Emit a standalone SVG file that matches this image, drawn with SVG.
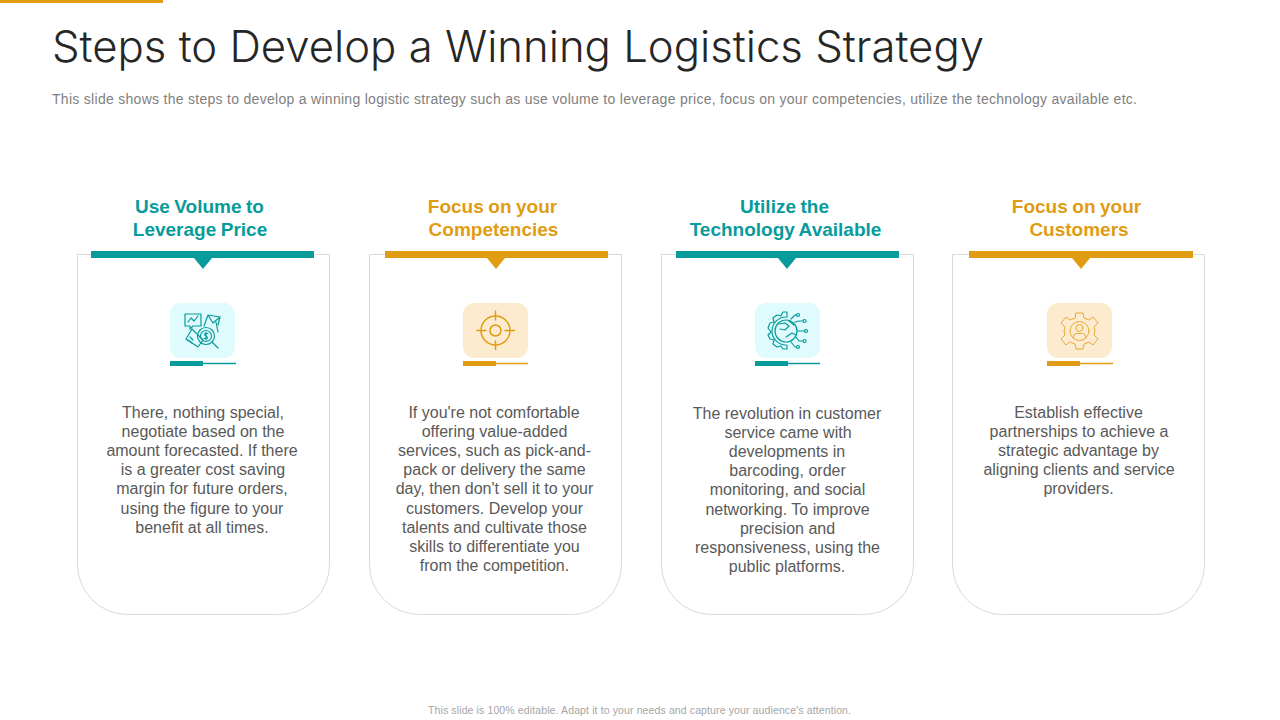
<svg xmlns="http://www.w3.org/2000/svg" width="1280" height="720" viewBox="0 0 1280 720">
<style>
text{font-family:"Liberation Sans",Arial,sans-serif}
.title{font-family:"Inter","Lato",sans-serif;font-weight:300;font-size:43px;fill:#262626;font-variant-ligatures:none}
.sub{font-size:14px;fill:#808080}
.foot{font-size:10.500px;fill:#a6a6a6}
.h{font-size:19px;font-weight:bold;text-anchor:middle;word-spacing:-0.800px}
.b{font-size:16px;fill:#595959;text-anchor:middle}
.card{fill:#fff;stroke:#d9d9d9;stroke-width:1}
.teal{fill:#089b9b}.gold{fill:#e09c12}
.st{stroke:#089b9b}.sg{stroke:#e09c12}
.tl{fill:#dffbfd}.gl{fill:#fdebd0}
.ln{stroke-width:1.500;fill:none}
.ic{fill:none;stroke-width:1.200;stroke-linecap:round;stroke-linejoin:round}
</style>
<rect id="accent" x="0" y="0" width="163" height="3" class="gold"/>
<g id="header">
<text class="title" x="52" y="62" textLength="932" lengthAdjust="spacingAndGlyphs">Steps to Develop a Winning Logistics Strategy</text>
<text class="sub" x="52" y="104" textLength="1085">This slide shows the steps to develop a winning logistic strategy such as use volume to leverage price, focus on your competencies, utilize the technology available etc.</text>
</g>
<g id="connectors"></g>
<g id="node-1">
<path class="card" d="M77.500 254.500H329.500V564.500A50 50 0 0 1 279.500 614.500H127.500A50 50 0 0 1 77.500 564.500Z"/>
<text class="h teal" x="199.500" y="213">Use Volume to</text>
<text class="h teal" x="200" y="236">Leverage Price</text>
<rect class="teal" x="91" y="251" width="223" height="7"/>
<path class="teal" d="M194 258H212L203 269Z"/>
<rect class="tl" x="170" y="303" width="65" height="55" rx="11"/>
<rect class="teal" x="170" y="361" width="33" height="5"/>
<path class="st ln" d="M203 363.500H236"/>
<g class="ic st">
<path d="M185 314H201V326H193L190 329V326H185Z"/>
<path d="M188 322L191 318L194 321L198 316"/>
<path d="M204 326L208 315L220 317L218 325M208 315L213 323L220 317M216 322L218 332"/>
<path d="M186 339L192 329L203 340L198 347Z"/>
<path d="M190 337L193 340M188 340L192 343"/>
<circle cx="206" cy="336" r="8.500"/><circle cx="206" cy="336" r="5.500"/>
<path d="M206 332V340M208 333.500H205Q204 335.500 206 336Q208 337 207 338.500H204"/>
<path d="M212 342L218 348"/>
</g>
<text class="b" x="203" y="418">There, nothing special,</text>
<text class="b" x="203" y="437">negotiate based on the</text>
<text class="b" x="202" y="456">amount forecasted. If there</text>
<text class="b" x="203" y="475">is a greater cost saving</text>
<text class="b" x="202" y="494">margin for future orders,</text>
<text class="b" x="202" y="514">using the figure to your</text>
<text class="b" x="202" y="533">benefit at all times.</text>
</g>
<g id="node-2">
<path class="card" d="M369.500 254.500H621.500V564.500A50 50 0 0 1 571.500 614.500H419.500A50 50 0 0 1 369.500 564.500Z"/>
<text class="h gold" x="492.500" y="213">Focus on your</text>
<text class="h gold" x="493.500" y="236">Competencies</text>
<rect class="gold" x="385" y="251" width="223" height="7"/>
<path class="gold" d="M487 258H505L496 269Z"/>
<rect class="gl" x="463" y="303" width="65" height="55" rx="11"/>
<rect class="gold" x="463" y="361" width="33" height="5"/>
<path class="sg ln" d="M496 363.500H528"/>
<g class="ic sg" style="stroke-width:1.500">
<circle cx="495.500" cy="330.500" r="14.500"/><circle cx="495.500" cy="330.500" r="5.500"/>
<path d="M495.500 311V320M495.500 341V349.500M477 330.500H486M505 330.500H514.500"/>
</g>
<text class="b" x="494" y="418">If you're not comfortable</text>
<text class="b" x="494.500" y="437">offering value-added</text>
<text class="b" x="494.500" y="456">services, such as pick-and-</text>
<text class="b" x="494.500" y="475">pack or delivery the same</text>
<text class="b" x="494.500" y="494">day, then don't sell it to your</text>
<text class="b" x="494.500" y="514">customers. Develop your</text>
<text class="b" x="494.500" y="533">talents and cultivate those</text>
<text class="b" x="494.500" y="552">skills to differentiate you</text>
<text class="b" x="494.500" y="571">from the competition.</text>
</g>
<g id="node-3">
<path class="card" d="M661.500 254.500H913.500V564.500A50 50 0 0 1 863.500 614.500H711.500A50 50 0 0 1 661.500 564.500Z"/>
<text class="h teal" x="784.500" y="213">Utilize the</text>
<text class="h teal" x="785.500" y="236">Technology Available</text>
<rect class="teal" x="676" y="251" width="223" height="7"/>
<path class="teal" d="M778 258H796L787 269Z"/>
<rect class="tl" x="755" y="303" width="65" height="55" rx="11"/>
<rect class="teal" x="755" y="361" width="33" height="5"/>
<path class="st ln" d="M788 363.500H820"/>
<g class="ic st">
<circle cx="786" cy="331" r="11"/>
<path d="M786 317A14 14 0 0 0 786 345"/>
<path d="M779 324L785 323L789 326L785 330L780 329M786 337L792 333L796 335M789 321L794 325"/>
<path d="M787 312V317M787 345V349H783L781 346L777 347L773 344L774 340L770 339L768 335L771 332L768 328L770 323L774 322L773 318L777 315L781 316L783 312H787"/>
<path d="M791 319L795 315H797M795 322L799 321H803M797 331H805M796 337L799 341H803M791 342L795 347H797"/>
<circle cx="798" cy="315" r="1.500"/><circle cx="804.500" cy="321" r="1.500"/><circle cx="806" cy="331" r="1.500"/><circle cx="804.500" cy="341" r="1.500"/><circle cx="798" cy="347" r="1.500"/>
</g>
<text class="b" x="787" y="419">The revolution in customer</text>
<text class="b" x="788" y="438">service came with</text>
<text class="b" x="787" y="457">developments in</text>
<text class="b" x="787.500" y="476">barcoding, order</text>
<text class="b" x="787.500" y="495">monitoring, and social</text>
<text class="b" x="787.500" y="515">networking. To improve</text>
<text class="b" x="787.500" y="534">precision and</text>
<text class="b" x="787.500" y="553">responsiveness, using the</text>
<text class="b" x="787" y="572">public platforms.</text>
</g>
<g id="node-4">
<path class="card" d="M952.500 254.500H1204.500V564.500A50 50 0 0 1 1154.500 614.500H1002.500A50 50 0 0 1 952.500 564.500Z"/>
<text class="h gold" x="1076.500" y="213">Focus on your</text>
<text class="h gold" x="1079" y="236">Customers</text>
<rect class="gold" x="969" y="251" width="224" height="7"/>
<path class="gold" d="M1072 258H1090L1081 269Z"/>
<rect class="gl" x="1047" y="303" width="65" height="55" rx="11"/>
<rect class="gold" x="1047" y="361" width="33" height="5"/>
<path class="sg ln" d="M1080 363.500H1113"/>
<g class="ic sg" style="stroke-width:1;opacity:.8">
<circle cx="1079.500" cy="331" r="9.500"/>
<circle cx="1079.500" cy="328" r="3.500"/>
<path d="M1073.500 338V336.500Q1073.500 333.500 1076.500 333.500H1082.500Q1085.500 333.500 1085.500 336.500V338"/>
<path d="M1076 313H1083L1084 318L1089 320L1093 317L1098 323L1094 327L1095 331L1094 335L1098 339L1093 345L1089 342L1084 344L1083 349H1076L1075 344L1070 342L1066 345L1061 339L1065 335L1064 331L1065 327L1061 323L1066 317L1070 320L1075 318Z"/>
</g>
<text class="b" x="1078.500" y="418">Establish effective</text>
<text class="b" x="1079" y="437">partnerships to achieve a</text>
<text class="b" x="1078.500" y="456">strategic advantage by</text>
<text class="b" x="1079" y="475">aligning clients and service</text>
<text class="b" x="1078.500" y="494">providers.</text>
</g>
<text class="foot" x="428" y="714" textLength="423">This slide is 100% editable. Adapt it to your needs and capture your audience's attention.</text>
</svg>
